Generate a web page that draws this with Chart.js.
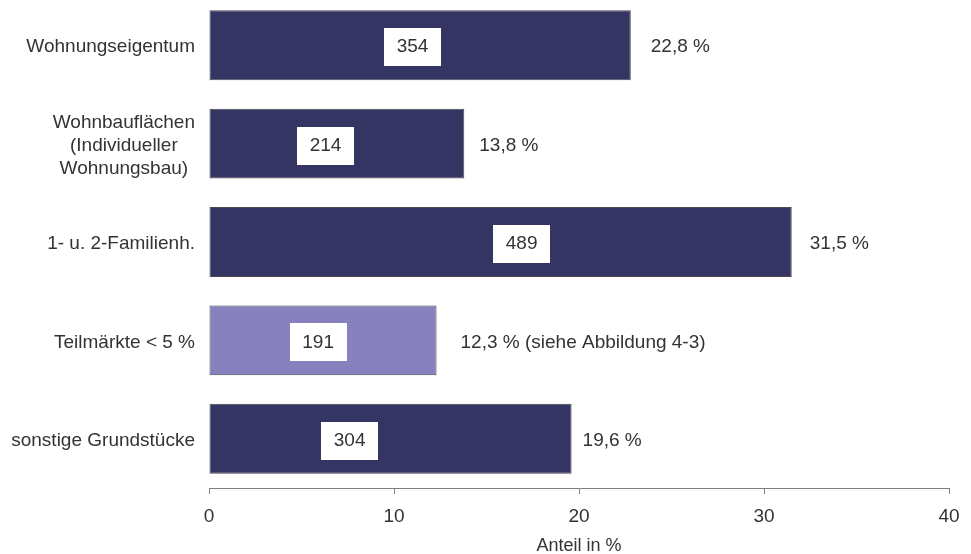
<!DOCTYPE html>
<html>
<head>
<meta charset="utf-8">
<script src="https://cdn.jsdelivr.net/npm/chart.js@4/dist/chart.umd.min.js"></script>
<style>
  html, body { margin: 0; padding: 0; background: #fff; overflow: hidden; }
  #wrap { position: absolute; left: 0; top: -4px; width: 971px; height: 561px; }
</style>
</head>
<body>
<div id="wrap"><canvas id="chart"></canvas></div>
<script>
// categories (multi-line ones as arrays)
var categories = [
    ["Wohnungseigentum"],
    ["Wohnbauflächen", "(Individueller", "Wohnungsbau)"],
    ["1- u. 2-Familienh."],
    ["Teilmärkte < 5 %"],
    ["sonstige Grundstücke"]
];
var shares = [22.8, 13.8, 31.5, 12.3, 19.6];   // Anteil in %
var counts = [354, 214, 489, 191, 304];        // Anzahl
var notes  = ["", "", "", " (siehe Abbildung 4-3)", ""];
var xTicks = [0, 10, 20, 30, 40];

var DARK = '#343562';
var LIGHT = '#8781bd';
var TEXT = '#333333';
var FAMILY = '"Liberation Sans", Arial, sans-serif';
var FONT = '19px ' + FAMILY;

// label placement (style, not data): count box anchor in axis units, gap of share text in px
var countAnchor = [11.0, 6.3, 16.9, 5.9, 7.6];
var shareGap = [20, 15, 18, 24, 11];

function pctText(i){
    return shares[i].toFixed(1).replace('.', ',') + ' %' + notes[i];
}

var barLabels = {
    id: 'barLabels',
    afterDatasetsDraw: function(chart){
        var ctx = chart.ctx;
        var meta = chart.getDatasetMeta(0);
        var xs = chart.scales.x;
        ctx.save();
        ctx.font = FONT;
        ctx.textBaseline = 'middle';
        meta.data.forEach(function(bar, i){
            var y = bar.y + 2;

            // share label right of the bar
            ctx.fillStyle = TEXT;
            ctx.textAlign = 'left';
            ctx.fillText(pctText(i), bar.x + shareGap[i], y);

            // count in a white box
            var cx = xs.getPixelForValue(countAnchor[i]);
            ctx.fillStyle = '#ffffff';
            ctx.fillRect(Math.round(cx - 28.5), Math.round(y - 19), 57, 38);
            ctx.fillStyle = TEXT;
            ctx.textAlign = 'center';
            ctx.fillText(String(counts[i]), cx, y);

            // category label, right edge at 195, lines centred to each other
            var lines = categories[i];
            var maxW = 0;
            lines.forEach(function(l){ maxW = Math.max(maxW, ctx.measureText(l).width); });
            var lx = 195 - maxW / 2;
            var lh = 23;
            var y0 = y - (lines.length - 1) * lh / 2;
            lines.forEach(function(l, k){
                ctx.fillText(l, lx, y0 + k * lh);
            });
        });
        ctx.restore();
    }
};

new Chart(document.getElementById('chart'), {
    type: 'bar',
    data: {
        labels: categories.map(function(c){ return c.join(' '); }),
        datasets: [{
            data: shares,
            backgroundColor: shares.map(function(v, i){ return i == 3 ? LIGHT : DARK; }),
            borderColor: '#4a4a55',
            borderWidth: 1,
            borderSkipped: false,
            barPercentage: 0.71,
            categoryPercentage: 1.0
        }]
    },
    options: {
        indexAxis: 'y',
        responsive: true,
        maintainAspectRatio: false,
        animation: false,
        layout: { padding: { left: 209, right: 22, top: 0, bottom: 0 } },
        plugins: {
            legend: { display: false },
            tooltip: { enabled: false }
        },
        scales: {
            y: {
                display: false
            },
            x: {
                min: 0,
                max: 40,
                afterBuildTicks: function(scale){
                    scale.ticks = xTicks.map(function(v){ return { value: v }; });
                },
                afterFit: function(scale){
                    scale.height = 69;
                },
                ticks: {
                    color: TEXT,
                    padding: 11,
                    maxRotation: 0,
                    font: { family: FAMILY, size: 19 }
                },
                grid: {
                    drawOnChartArea: false,
                    drawTicks: true,
                    tickLength: 6,
                    color: '#808080'
                },
                border: { color: '#808080', width: 1 },
                title: {
                    display: true,
                    text: 'Anteil in %',
                    color: TEXT,
                    padding: { top: 0, bottom: 0 },
                    font: { family: FAMILY, size: 18 }
                }
            }
        }
    },
    plugins: [barLabels]
});
</script>
</body>
</html>
